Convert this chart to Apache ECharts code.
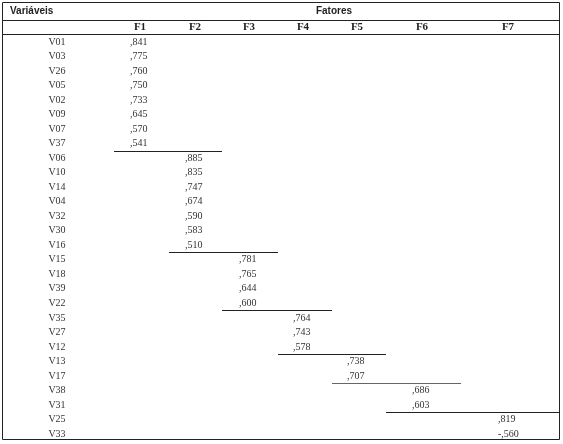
<!DOCTYPE html>
<html><head><meta charset="utf-8">
<script src="https://cdn.jsdelivr.net/npm/echarts@6/dist/echarts.min.js"></script>
<style>html,body{margin:0;padding:0;background:#fff}#c{width:563px;height:444px}</style>
</head><body><div id="c"></div>
<script>
var variables = ['V01','V03','V26','V05','V02','V09','V07','V37','V06','V10','V14','V04','V32','V30','V16','V15','V18','V39','V22','V35','V27','V12','V13','V17','V38','V31','V25','V33'];
var factors = ['F1','F2','F3','F4','F5','F6','F7'];
var factorOfRow = [0,0,0,0,0,0,0,0,1,1,1,1,1,1,1,2,2,2,2,3,3,3,4,4,5,5,6,6];
var loadings = [',841',',775',',760',',750',',733',',645',',570',',541',',885',',835',',747',',674',',590',',583',',510',',781',',765',',644',',600',',764',',743',',578',',738',',707',',686',',603',',819','-,560'];

var colX = [140,195,249,303,357,422,508];
var colEdges = [114,169,222,278,332,386,461,560];
var rowY0 = 42, rowH = 14.52;
var g = [];
var font = '10px "Liberation Serif", "DejaVu Serif", serif';
g.push({type:'rect',shape:{x:2.5,y:2.5,width:557,height:437},style:{fill:'none',stroke:'#222',lineWidth:1}});
g.push({type:'line',shape:{x1:2,y1:20.5,x2:560,y2:20.5},style:{stroke:'#222',lineWidth:1}});
g.push({type:'line',shape:{x1:2,y1:34.5,x2:560,y2:34.5},style:{stroke:'#222',lineWidth:1}});
g.push({type:'text',x:10,y:11,style:{text:'Variáveis',font:'bold 10px "Liberation Sans", Arial, sans-serif',fill:'#222',verticalAlign:'middle'}});
g.push({type:'text',x:334,y:11,style:{text:'Fatores',font:'bold 10px "Liberation Sans", Arial, sans-serif',fill:'#222',align:'center',verticalAlign:'middle'}});
factors.forEach(function(f,i){
  g.push({type:'text',x:colX[i],y:27.5,style:{text:f,font:'bold 11px "Liberation Serif", serif',fill:'#222',align:'center',verticalAlign:'middle'}});
});
variables.forEach(function(v,r){
  var y = rowY0 + r*rowH;
  g.push({type:'text',x:57,y:y,style:{text:v,font:font,fill:'#333',align:'center',verticalAlign:'middle'}});
  var f = factorOfRow[r];
  g.push({type:'text',x:colX[f]-10,y:y,style:{text:loadings[r],font:font,fill:'#333',verticalAlign:'middle'}});
  var last = (r === variables.length-1) || factorOfRow[r+1] !== f;
  if (last && r !== variables.length-1) {
    var ly = Math.round(y + 7) + 0.5;
    g.push({type:'line',shape:{x1:colEdges[f],y1:ly,x2:colEdges[f+2],y2:ly},style:{stroke:f===4?'#666':'#222',lineWidth:1}});
  }
});
var chart = echarts.init(document.getElementById('c'));
chart.setOption({animation:false,graphic:g});
</script></body></html>
